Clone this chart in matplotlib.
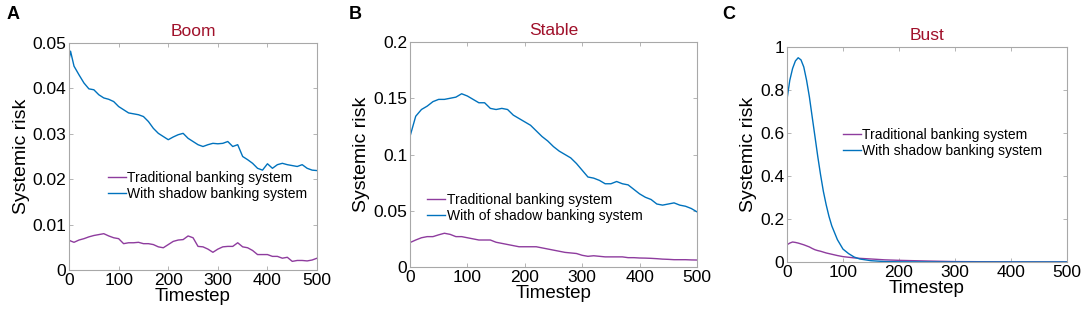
import matplotlib
matplotlib.use("Agg")
import matplotlib.pyplot as plt
from matplotlib.ticker import FuncFormatter

# ---- data ----
boom_t = [0, 3, 10, 20, 30, 40, 50, 60, 70, 80, 90, 100, 110, 120, 130, 140, 150, 160, 170,
          180, 190, 200, 210, 220, 230, 240, 250, 260, 270, 280, 290, 300, 310, 320, 330,
          340, 350, 360, 370, 380, 390, 400, 410, 420, 430, 440, 450, 460, 470, 480, 490, 500]
boom_shadow = [0.0463, 0.0482, 0.0449, 0.0430, 0.0412, 0.0399, 0.0397, 0.0386, 0.0379, 0.0376,
               0.0371, 0.0360, 0.0353, 0.0346, 0.0344, 0.0342, 0.0338, 0.0327, 0.0312, 0.0301,
               0.0294, 0.0287, 0.0293, 0.0298, 0.0301, 0.0290, 0.0283, 0.0276, 0.0272, 0.0276,
               0.0279, 0.0278, 0.0279, 0.0283, 0.0272, 0.0276, 0.0250, 0.0243, 0.0235, 0.0224,
               0.0220, 0.0234, 0.0224, 0.0232, 0.0235, 0.0232, 0.0230, 0.0228, 0.0232, 0.0224,
               0.0220, 0.0219]
boom_trad = [0.0066, 0.0064, 0.0061, 0.0066, 0.0069, 0.0073, 0.0076, 0.0078, 0.0080, 0.0075,
             0.0071, 0.0069, 0.0058, 0.0060, 0.0060, 0.0061, 0.0058, 0.0058, 0.0056, 0.0051,
             0.0049, 0.0056, 0.0063, 0.0066, 0.0067, 0.0075, 0.0071, 0.0052, 0.0051, 0.0046,
             0.0039, 0.0046, 0.0051, 0.0052, 0.0052, 0.0060, 0.0051, 0.0049, 0.0043, 0.0034,
             0.0034, 0.0034, 0.0030, 0.0030, 0.0026, 0.0028, 0.0019, 0.0021, 0.0021, 0.0020,
             0.0022, 0.0026]

stable_t = [0, 10, 20, 30, 40, 50, 60, 70, 80, 90, 100, 110, 120, 130, 140, 150, 160, 170, 180,
            190, 200, 210, 220, 230, 240, 250, 260, 270, 280, 290, 300, 310, 320, 330, 340, 350,
            360, 370, 380, 390, 400, 410, 420, 430, 440, 450, 460, 470, 480, 490, 500]
stable_shadow = [0.116, 0.134, 0.140, 0.143, 0.147, 0.149, 0.149, 0.150, 0.151, 0.154, 0.152,
                 0.149, 0.146, 0.146, 0.141, 0.140, 0.141, 0.140, 0.135, 0.132, 0.129, 0.126,
                 0.121, 0.116, 0.112, 0.107, 0.103, 0.100, 0.097, 0.092, 0.086, 0.080, 0.079,
                 0.077, 0.074, 0.074, 0.076, 0.074, 0.073, 0.069, 0.065, 0.062, 0.060, 0.056,
                 0.055, 0.056, 0.057, 0.055, 0.054, 0.052, 0.049]
stable_trad = [0.0217, 0.024, 0.026, 0.027, 0.027, 0.0286, 0.030, 0.029, 0.027, 0.027, 0.026,
               0.025, 0.024, 0.024, 0.024, 0.022, 0.021, 0.020, 0.019, 0.018, 0.018, 0.018,
               0.018, 0.017, 0.016, 0.015, 0.014, 0.013, 0.0125, 0.012, 0.0104, 0.0095, 0.010,
               0.0095, 0.009, 0.009, 0.009, 0.009, 0.0083, 0.0083, 0.008, 0.0079, 0.0077,
               0.0074, 0.007, 0.0068, 0.0065, 0.0065, 0.0065, 0.0063, 0.0062]

bust_t = [0, 5, 10, 15, 20, 25, 30, 35, 40, 45, 50, 55, 60, 65, 70, 75, 80, 90, 100, 110, 120,
          130, 150, 175, 200, 250, 300, 400, 500]
bust_shadow = [0.756, 0.845, 0.900, 0.935, 0.950, 0.940, 0.907, 0.845, 0.768, 0.675, 0.583,
               0.490, 0.405, 0.328, 0.266, 0.212, 0.168, 0.104, 0.060, 0.039, 0.023, 0.014,
               0.006, 0.002, 0.001, 0.0003, 0.0001, 0.0, 0.0]
bust_trad = [0.080, 0.088, 0.093, 0.091, 0.088, 0.084, 0.080, 0.075, 0.070, 0.063, 0.057,
             0.053, 0.050, 0.046, 0.042, 0.039, 0.036, 0.030, 0.025, 0.022, 0.019, 0.017,
             0.014, 0.010, 0.0077, 0.0046, 0.002, 0.0005, 0.0002]

panels = [
    ("A", "Boom", boom_t, boom_trad, boom_shadow, 0.05, [0, 0.01, 0.02, 0.03, 0.04, 0.05],
     "With shadow banking system"),
    ("B", "Stable", stable_t, stable_trad, stable_shadow, 0.2, [0, 0.05, 0.1, 0.15, 0.2],
     "With of shadow banking system"),
    ("C", "Bust", bust_t, bust_trad, bust_shadow, 1.0, [0, 0.2, 0.4, 0.6, 0.8, 1.0],
     "With shadow banking system"),
]

plt.rcParams["font.family"] = ["Liberation Sans", "DejaVu Sans"]

fig = plt.figure(figsize=(10.84, 3.19), dpi=100)
rects = [(0.0637, 0.1536, 0.2288, 0.7116),
         (0.3782, 0.1630, 0.2648, 0.7053),
         (0.7260, 0.1787, 0.2583, 0.6740)]
legend_anchor = [(0.157, 0.37), (0.06, 0.262), (0.20, 0.555)]
letter_x = [0.006, 0.322, 0.666]

BLUE = "#0072BD"
PURPLE = "#8E3C9E"
GRID = "#a8a8a8"

for i, (letter, title, t, trad, shadow, ymax, yt, shadow_lab) in enumerate(panels):
    ax = fig.add_axes(rects[i])
    ax.plot(t, trad, color=PURPLE, lw=1.0, label="Traditional banking system")
    ax.plot(t, shadow, color=BLUE, lw=1.0, label=shadow_lab)
    ax.set_xlim(0, 500)
    ax.set_ylim(0, ymax)
    ax.set_xticks([0, 100, 200, 300, 400, 500])
    ax.set_yticks(yt)
    ax.yaxis.set_major_formatter(FuncFormatter(lambda v, p: f"{v:g}"))
    ax.tick_params(direction="in", length=3, width=0.6, color=GRID, labelsize=12.5,
                   top=True, right=True, pad=2)
    for s in ax.spines.values():
        s.set_color(GRID)
        s.set_linewidth(0.8)
    ax.set_title(title, color="#A0102A", fontsize=12.5, pad=5)
    ax.set_xlabel("Timestep", fontsize=13.5, labelpad=0)
    ax.set_ylabel("Systemic risk", fontsize=14, labelpad=2)
    ax.legend(loc="center left", bbox_to_anchor=legend_anchor[i], frameon=False,
              fontsize=10, handlelength=1.3, handletextpad=0.1, labelspacing=0.15,
              borderpad=0, borderaxespad=0)
    fig.text(letter_x[i], 0.955, letter, fontsize=13, fontweight="bold", va="center")

fig.savefig("out.png", dpi=100)
